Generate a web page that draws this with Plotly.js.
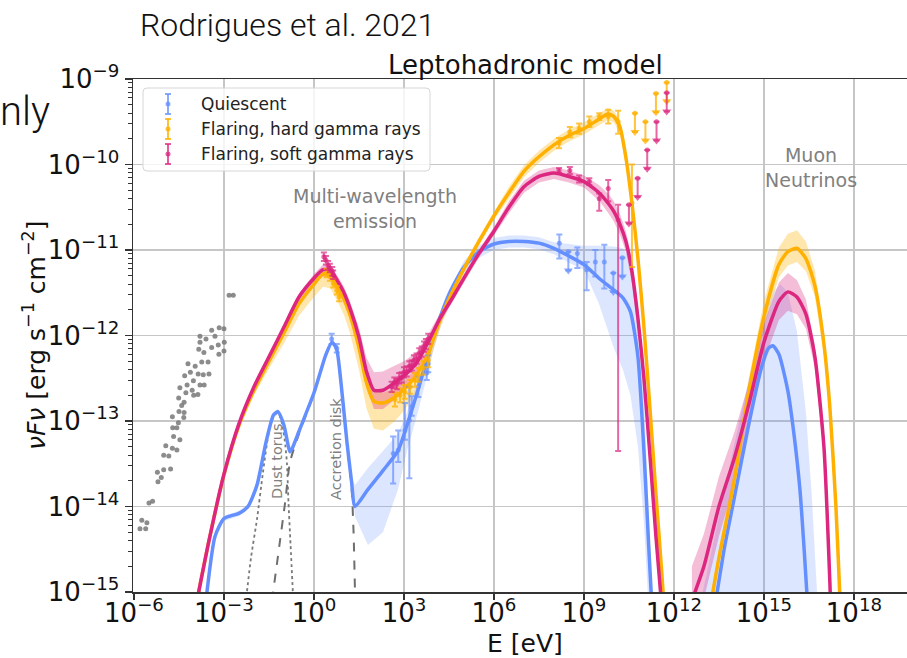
<!DOCTYPE html>
<html><head><meta charset="utf-8">
<script src="https://cdn.plot.ly/plotly-3.0.1.min.js"></script>
<style>body{margin:0;background:#fff}#chart{width:907px;height:658px}</style>
</head><body><div id="chart"></div>
<script>
// ===== values (log10 E [eV], log10 nuFnu [erg s^-1 cm^-2]) =====
// --- flaring models, photon SED ---
const sedLogE   = [-3.9,-3.5,-3.0,-2.5,-2.0,-1.5,-1.0,-0.5,0.0,0.3,0.55,0.8,1.0,1.2,1.5,1.75,2.0,2.3,2.7,3.0,3.4,3.8,4.2,4.6,5.0,5.5,6.0,6.5,7.0,7.5,8.0,8.5,9.0,9.5,9.8,10.0,10.2,10.4,10.6,10.8,11.0,11.2,11.4,11.6,11.75];
const softLine  = [-15.1,-14.4,-13.62,-13.03,-12.6,-12.25,-11.9,-11.55,-11.33,-11.23,-11.24,-11.37,-11.5,-11.68,-12.02,-12.42,-12.64,-12.64,-12.55,-12.47,-12.33,-12.08,-11.8,-11.57,-11.33,-11.04,-10.78,-10.5,-10.26,-10.14,-10.1,-10.14,-10.2,-10.33,-10.45,-10.55,-10.7,-10.9,-11.25,-11.8,-12.5,-13.4,-14.35,-15.2,-16.0];
const softUp    = [0.03,0.03,0.03,0.03,0.03,0.03,0.03,0.04,0.05,0.06,0.06,0.06,0.07,0.08,0.11,0.16,0.21,0.22,0.2,0.17,0.13,0.09,0.06,0.05,0.05,0.05,0.05,0.07,0.07,0.07,0.07,0.07,0.07,0.09,0.11,0.12,0.12,0.12,0.14,0.14,0.14,0.14,0.14,0.14,0.14];
const softDown  = [0.03,0.03,0.03,0.03,0.03,0.04,0.05,0.06,0.07,0.08,0.08,0.09,0.1,0.12,0.15,0.19,0.22,0.22,0.2,0.17,0.13,0.09,0.06,0.05,0.05,0.05,0.05,0.07,0.07,0.07,0.07,0.07,0.07,0.09,0.11,0.12,0.12,0.12,0.14,0.14,0.14,0.14,0.14,0.14,0.14];
const hardLine  = [-15.1,-14.4,-13.63,-13.05,-12.64,-12.3,-11.97,-11.63,-11.4,-11.28,-11.3,-11.45,-11.58,-11.76,-12.14,-12.55,-12.77,-12.79,-12.72,-12.63,-12.47,-12.22,-11.82,-11.5,-11.22,-10.9,-10.6,-10.33,-10.08,-9.91,-9.77,-9.66,-9.58,-9.47,-9.41,-9.44,-9.56,-9.92,-10.45,-11.1,-11.9,-12.85,-13.85,-14.8,-15.6];
const hardUp    = [0.02,0.02,0.02,0.02,0.02,0.02,0.03,0.03,0.04,0.04,0.05,0.05,0.06,0.08,0.1,0.12,0.13,0.12,0.1,0.09,0.08,0.06,0.05,0.05,0.05,0.05,0.05,0.07,0.07,0.07,0.07,0.07,0.07,0.07,0.07,0.07,0.08,0.1,0.1,0.1,0.1,0.1,0.1,0.1,0.1];
const hardDown  = [0.04,0.04,0.04,0.04,0.06,0.09,0.12,0.14,0.15,0.15,0.15,0.16,0.18,0.21,0.26,0.3,0.32,0.32,0.28,0.25,0.2,0.15,0.1,0.07,0.05,0.05,0.05,0.07,0.07,0.07,0.07,0.07,0.07,0.07,0.07,0.07,0.08,0.1,0.1,0.1,0.1,0.1,0.1,0.1,0.1];
// --- quiescent model, photon SED ---
const quiLogE   = [-3.6,-3.3,-3.0,-2.5,-2.2,-1.9,-1.6,-1.35,-1.2,-1.0,-0.8,-0.7,-0.5,0.0,0.4,0.6,0.75,0.9,1.1,1.25,1.37,1.8,2.3,2.8,3.1,3.5,4.0,4.5,5.0,5.5,6.0,6.5,7.0,7.5,8.0,8.5,9.0,9.5,10.0,10.3,10.55,10.8,11.0,11.15,11.3];
const quiLine   = [-15.1,-14.35,-14.14,-14.08,-14.0,-13.75,-13.25,-12.93,-12.89,-13.05,-13.36,-13.3,-13.12,-12.67,-12.22,-12.08,-12.15,-12.55,-13.25,-13.7,-14.0,-13.8,-13.58,-13.35,-13.05,-12.6,-12.0,-11.52,-11.2,-11.02,-10.93,-10.9,-10.9,-10.92,-10.98,-11.07,-11.17,-11.33,-11.47,-11.56,-11.72,-12.25,-13.35,-14.4,-15.4];
const quiUp     = [0.03,0.03,0.03,0.03,0.03,0.03,0.03,0.03,0.03,0.03,0.03,0.03,0.03,0.03,0.03,0.03,0.03,0.03,0.03,0.03,0.25,0.25,0.23,0.2,0.15,0.1,0.05,0.05,0.07,0.07,0.07,0.07,0.07,0.07,0.07,0.14,0.22,0.38,0.51,0.58,0.62,0.5,0.65,0.4,0.1];
const quiDown   = [0.03,0.03,0.03,0.03,0.03,0.03,0.03,0.03,0.03,0.03,0.03,0.03,0.03,0.03,0.03,0.03,0.03,0.03,0.03,0.03,0.12,0.65,0.72,0.45,0.3,0.25,0.15,0.06,0.07,0.07,0.07,0.07,0.07,0.07,0.07,0.08,0.06,0.3,0.68,0.84,0.98,1.05,0.85,0.7,0.7];
// --- thermal components of the quiescent model ---
const torusLogE = [-2.3,-2.1,-1.9,-1.7,-1.5,-1.35,-1.2,-1.05,-0.95,-0.9,-0.85,-0.78,-0.69];
const torusLine = [-15.2,-14.6,-14.15,-13.6,-13.12,-12.95,-12.9,-13.05,-13.3,-13.5,-13.95,-14.45,-15.1];
const diskLogE  = [-1.4,-1.15,-0.95,-0.8,-0.5,0.0,0.4,0.6,0.75,0.9,1.1,1.25,1.32,1.38];
const diskLine  = [-15.1,-14.45,-13.92,-13.48,-13.15,-12.68,-12.23,-12.09,-12.16,-12.56,-13.27,-13.75,-14.3,-15.2];
// --- muon neutrinos ---
const softNuLogE = [12.6,13.0,13.5,14.0,14.5,15.0,15.5,15.8,16.1,16.4,16.7,17.0,17.2,17.3];
const softNuLine = [-15.1,-14.7,-14.0,-13.45,-12.8,-12.08,-11.6,-11.49,-11.55,-11.75,-12.25,-13.3,-14.9,-16.0];
const softNuBand = [0.4,0.38,0.35,0.3,0.25,0.22,0.22,0.22,0.2,0.17,0.13,0.1,0.1,0.1];
const hardNuLogE = [13.2,13.5,14.0,14.5,15.0,15.5,15.8,16.1,16.4,16.7,17.0,17.2,17.4,17.55,17.65];
const hardNuLine = [-15.2,-14.6,-13.72,-12.65,-11.78,-11.17,-11.02,-10.98,-11.1,-11.42,-12.1,-12.85,-14.0,-15.2,-16.0];
const hardNuUp   = [0.1,0.1,0.12,0.15,0.18,0.2,0.21,0.21,0.2,0.18,0.15,0.15,0.12,0.1,0.1];
const hardNuDown = [0.1,0.1,0.1,0.12,0.13,0.15,0.16,0.16,0.15,0.13,0.12,0.1,0.1,0.1,0.1];
const quiNuLogE  = [13.35,13.7,14.0,14.5,14.9,15.15,15.3,15.5,15.8,16.0,16.2,16.35,16.5];
const quiNuLine  = [-15.2,-14.45,-13.92,-13.03,-12.4,-12.15,-12.12,-12.22,-12.65,-13.15,-13.8,-14.55,-15.4];
const quiNuBandLogE = [12.9,13.5,14.0,14.5,15.0,15.3,15.55,15.8,16.1,16.4,16.6,16.8];
const quiNuBandHi   = [-15.1,-14.1,-13.3,-12.5,-11.8,-11.5,-11.4,-11.5,-11.95,-12.9,-13.9,-15.2];
const quiNuBandLo   = [-16,-16,-16,-16,-16,-16,-16,-16,-16,-16,-16,-16];
// --- archival data (grey dots) ---
const greyLogE = [-2.83,-2.69,-3.16,-3.0,-3.41,-3.8,-3.6,-3.3,-3.8,-2.99,-3.41,-3.19,-3.84,-3.67,-3.0,-3.17,-3.74,-3.53,-4.2,-3.96,-4.12,-4.31,-3.86,-3.69,-3.5,-4.02,-4.23,-3.8,-3.66,-4.47,-4.06,-4.27,-4.01,-3.87,-4.51,-4.33,-4.41,-4.5,-4.33,-4.72,-4.34,-4.52,-4.71,-4.57,-4.68,-4.47,-4.94,-4.72,-4.57,-5.01,-4.84,-4.78,-5.01,-5.22,-5.09,-5.2,-5.5,-5.38,-5.74,-5.57,-5.8,-5.61];
const greyLogF = [-11.53,-11.53,-11.91,-11.92,-11.94,-12.01,-12.04,-12.01,-12.08,-12.08,-12.14,-12.11,-12.16,-12.2,-12.18,-12.22,-12.31,-12.31,-12.33,-12.36,-12.43,-12.47,-12.45,-12.46,-12.45,-12.53,-12.58,-12.58,-12.58,-12.61,-12.64,-12.67,-12.7,-12.69,-12.73,-12.78,-12.82,-12.89,-12.9,-12.95,-12.96,-13.02,-13.08,-13.08,-13.18,-13.22,-13.29,-13.32,-13.34,-13.4,-13.41,-13.56,-13.57,-13.6,-13.66,-13.71,-13.96,-13.94,-14.16,-14.19,-14.26,-14.26];
// --- measured points ---
const quiPtLogE = [0.59,0.76,2.64,2.81,3.03,3.18,3.26,3.48,3.76,3.81,8.18,8.78,9.09,9.38,9.68];
const quiPtLogF = [-12.04,-12.15,-13.38,-13.34,-13.11,-12.99,-12.83,-12.6,-12.44,-12.33,-10.92,-11.04,-11.23,-11.14,-11.14];
const quiPtHi   = [-11.98,-12.1,-13.18,-13.11,-12.79,-12.6,-12.71,-12.48,-12.34,-12.23,-10.82,-10.97,-11.14,-11.0,-10.94];
const quiPtLo   = [-12.1,-12.2,-13.73,-13.48,-13.22,-13.67,-12.94,-12.72,-12.52,-12.43,-11.1,-11.21,-11.47,-11.31,-11.45];
const quiUlLogE = [8.48,9.98,10.28];
const quiUlLogF = [-11.02,-11.27,-11.09];
const hardPtLogE = [0.42,0.53,0.64,0.76,0.84,2.7,2.87,3.03,3.2,3.37,3.48,3.64,3.81,8.17,8.53,8.84,9.18,9.51,9.81,10.14,10.6];
const hardPtLogF = [-11.27,-11.31,-11.39,-11.47,-11.55,-12.75,-12.7,-12.66,-12.6,-12.52,-12.46,-12.38,-12.29,-9.75,-9.62,-9.58,-9.5,-9.44,-9.44,-9.5,-10.45];
const hardPtHi   = [-11.22,-11.26,-11.34,-11.42,-11.5,-12.67,-12.62,-12.58,-12.52,-12.44,-12.38,-12.3,-12.21,-9.69,-9.56,-9.52,-9.44,-9.4,-9.36,-9.37,-10.0];
const hardPtLo   = [-11.32,-11.36,-11.44,-11.52,-11.6,-12.83,-12.78,-12.74,-12.68,-12.6,-12.54,-12.46,-12.37,-9.81,-9.68,-9.64,-9.56,-9.48,-9.52,-9.64,-11.2];
const hardUlLogE = [10.7,11.05,11.4,11.76];
const hardUlLogF = [-9.4,-9.5,-9.17,-9.04];
const softPtLogE = [0.33,0.4,0.47,0.53,0.61,0.64,2.59,2.68,2.76,2.84,2.92,3.0,3.09,3.18,3.26,3.33,3.42,3.51,3.59,3.67,3.73,3.81,8.17,8.53,8.84,9.18,9.51,9.81,10.14];
const softPtLogF = [-11.08,-11.12,-11.18,-11.21,-11.25,-11.29,-12.6,-12.55,-12.57,-12.5,-12.49,-12.43,-12.42,-12.36,-12.35,-12.29,-12.27,-12.21,-12.19,-12.13,-12.1,-12.04,-10.07,-10.07,-10.17,-10.2,-10.4,-10.28,-10.65];
const softPtHi   = [-11.03,-11.07,-11.13,-11.16,-11.2,-11.24,-12.54,-12.49,-12.51,-12.44,-12.43,-12.37,-12.36,-12.3,-12.29,-12.23,-12.21,-12.15,-12.13,-12.07,-12.04,-11.98,-10.04,-10.03,-10.13,-10.16,-10.34,-10.18,-10.47];
const softPtLo   = [-11.13,-11.17,-11.23,-11.26,-11.3,-11.34,-12.66,-12.61,-12.63,-12.56,-12.55,-12.49,-12.48,-12.42,-12.41,-12.35,-12.33,-12.27,-12.25,-12.19,-12.16,-12.1,-10.1,-10.11,-10.21,-10.24,-10.54,-10.43,-13.35];
const softUlLogE = [10.5,10.79,11.11,11.42,11.76];
const softUlLogF = [-10.47,-10.16,-9.83,-9.5,-9.16];
// --- axis ticks & labels ---
const xTickExp = [-6,-3,0,3,6,9,12,15,18];
const yTickExp = [-15,-14,-13,-12,-11,-10,-9];
const seriesNames = ['Quiescent','Flaring, hard gamma rays','Flaring, soft gamma rays'];

// ===== styling =====
const BLUE='#648FFF', GOLD='#FFB000', MAG='#DC267F';
const FONT='DejaVu Sans, sans-serif';
const ML=133, MT=79, PW=774, PH=513;
const X = px => (px-ML)/PW, Y = py => 1-(py-MT)/PH;
const pw = a => a.map(v => Math.pow(10, v));
const addArr = (a,b,s) => a.map((v,i)=>v+s*b[i]);
const UL_ARROW = 0.22;

function band(logE, hi, lo, fill){
  return {x: pw(logE.concat(logE.slice().reverse())), y: pw(hi.concat(lo.slice().reverse())),
    mode:'lines', fill:'toself', fillcolor:fill, line:{width:0}, hoverinfo:'skip', showlegend:false};
}
function line(logE, v, color, w, dash){
  return {x: pw(logE), y: pw(v), mode:'lines', line:{color, width:w, dash:dash||'solid', shape:'spline', smoothing:0.6}, showlegend:false, hoverinfo:'skip'};
}
function pts(logE, logF, hi, lo, color){
  const y = pw(logF);
  return {x: pw(logE), y, mode:'markers', marker:{size:5, color}, showlegend:false,
    error_y:{type:'data', symmetric:false, array: hi.map((h,i)=>Math.pow(10,h)-y[i]),
      arrayminus: lo.map((l,i)=>y[i]-Math.pow(10,l)), color, thickness:2, width:3}};
}
function uls(logE, logF, color){
  const y = pw(logF), tip = pw(logF.map(v=>v-UL_ARROW));
  return [
    {x: pw(logE), y, mode:'markers', marker:{size:5, color}, showlegend:false,
     error_y:{type:'data', symmetric:false, array: y.map(()=>0), arrayminus: y.map((v,i)=>v-tip[i]), color, thickness:2, width:3}},
    {x: pw(logE), y: tip, mode:'markers', marker:{symbol:'triangle-down', size:8, color}, showlegend:false}
  ];
}

const traces = [
  band(quiLogE, addArr(quiLine,quiUp,1), addArr(quiLine,quiDown,-1), 'rgba(100,143,255,0.22)'),
  band(quiNuBandLogE, quiNuBandHi, quiNuBandLo, 'rgba(100,143,255,0.22)'),
  band(sedLogE, addArr(hardLine,hardUp,1), addArr(hardLine,hardDown,-1), 'rgba(255,176,0,0.32)'),
  band(hardNuLogE, addArr(hardNuLine,hardNuUp,1), addArr(hardNuLine,hardNuDown,-1), 'rgba(255,176,0,0.32)'),
  band(sedLogE, addArr(softLine,softUp,1), addArr(softLine,softDown,-1), 'rgba(220,38,127,0.3)'),
  band(softNuLogE, addArr(softNuLine,softNuBand,1), addArr(softNuLine,softNuBand,-1), 'rgba(220,38,127,0.3)'),
  line(torusLogE, torusLine, '#7a7a7a', 1.8, 'dot'),
  line(diskLogE, diskLine, '#6e6e6e', 2, 'dash'),
  line(quiLogE, quiLine, BLUE, 3.5),
  line(quiNuLogE, quiNuLine, BLUE, 3.5),
  line(sedLogE, hardLine, GOLD, 3.5),
  line(hardNuLogE, hardNuLine, GOLD, 3.5),
  line(sedLogE, softLine, MAG, 3.5),
  line(softNuLogE, softNuLine, MAG, 3.5),
  {x: pw(greyLogE), y: pw(greyLogF), mode:'markers', marker:{size:5, color:'rgba(120,120,120,0.85)'}, showlegend:false},
  pts(quiPtLogE, quiPtLogF, quiPtHi, quiPtLo, 'rgba(100,143,255,0.7)'),
  ...uls(quiUlLogE, quiUlLogF, 'rgba(100,143,255,0.7)'),
  pts(hardPtLogE, hardPtLogF, hardPtHi, hardPtLo, 'rgba(255,176,0,0.75)'),
  ...uls(hardUlLogE, hardUlLogF, 'rgba(255,176,0,0.75)'),
  pts(softPtLogE, softPtLogF, softPtHi, softPtLo, 'rgba(220,38,127,0.7)'),
  ...uls(softUlLogE, softUlLogF, 'rgba(220,38,127,0.7)')
];

const sup = e => '10<sup>' + (e<0 ? '\u2212'+(-e) : e) + '</sup>';
const minorVals = [];
for (let d=-15; d<-9; d++) for (let k=2; k<10; k++) minorVals.push(k*Math.pow(10,d));

// custom legend
const legColors = ['rgba(100,143,255,0.75)','rgba(255,176,0,0.8)','rgba(220,38,127,0.75)'];
const legRows = [104,129,154];
const P = (px,py) => X(px)+','+Y(py);
const bl=143, br=430, bt=88, bb=171, rr=4;
const shapes = [{type:'path', xref:'paper', yref:'paper',
  path:`M ${P(bl+rr,bt)} L ${P(br-rr,bt)} Q ${P(br,bt)} ${P(br,bt+rr)} L ${P(br,bb-rr)} Q ${P(br,bb)} ${P(br-rr,bb)} L ${P(bl+rr,bb)} Q ${P(bl,bb)} ${P(bl,bb-rr)} L ${P(bl,bt+rr)} Q ${P(bl,bt)} ${P(bl+rr,bt)} Z`,
  fillcolor:'rgba(255,255,255,0.8)', line:{color:'#d6d6d6', width:1}, layer:'above'}];
const annotations = [];
legRows.forEach((ry,i)=>{
  const c = legColors[i], ix = 168;
  shapes.push({type:'line', xref:'paper', yref:'paper', x0:X(ix), x1:X(ix), y0:Y(ry-10), y1:Y(ry+10), line:{color:c, width:2}, layer:'above'});
  shapes.push({type:'line', xref:'paper', yref:'paper', x0:X(ix-3), x1:X(ix+3), y0:Y(ry-10), y1:Y(ry-10), line:{color:c, width:2}, layer:'above'});
  shapes.push({type:'line', xref:'paper', yref:'paper', x0:X(ix-3), x1:X(ix+3), y0:Y(ry+10), y1:Y(ry+10), line:{color:c, width:2}, layer:'above'});
  shapes.push({type:'circle', xref:'paper', yref:'paper', x0:X(ix-2.5), x1:X(ix+2.5), y0:Y(ry-2.5), y1:Y(ry+2.5), fillcolor:c, line:{width:0}, layer:'above'});
  annotations.push({xref:'paper', yref:'paper', x:X(199), y:Y(ry), xanchor:'left', yanchor:'middle', showarrow:false,
    text:seriesNames[i], font:{family:FONT, size:17, color:'#222'}});
});
const txt = (t, px, py, size, color, extra) => Object.assign({xref:'paper', yref:'paper', x:X(px), y:Y(py),
  xanchor:'center', yanchor:'middle', showarrow:false, text:t, font:{family:FONT, size, color}}, extra||{});
annotations.push(
  txt('Leptohadronic model', 525, 65, 26, '#111'),
  txt('Rodrigues et al. 2021', 138, 25, 32, '#111', {xanchor:'left', font:{family:'Roboto, sans-serif', size:32, color:'#111', weight:300}}),
  txt('nly', -2, 111, 40, '#111', {xanchor:'left', font:{family:'Roboto, sans-serif', size:40, color:'#111', weight:300}}),
  txt('Multi-wavelength<br>emission', 375, 208, 19, '#808080'),
  txt('Muon<br>Neutrinos', 811, 167, 19, '#808080'),
  txt('Dust torus', 277, 462, 14.5, '#808080', {textangle:-90}),
  txt('Accretion disk', 336, 449, 14.5, '#808080', {textangle:-90}),
  txt('<i>\u03bdF\u03bd</i> [erg s<sup>\u22121</sup> cm<sup>\u22122</sup>]', 34, 335, 25, '#111', {textangle:-90}),
  txt('E [eV]', 525, 643, 25, '#111')
);

const layout = {
  width:907, height:658, margin:{l:ML, r:0, t:MT, b:658-MT-PH, pad:0},
  paper_bgcolor:'#fff', plot_bgcolor:'#fff', showlegend:false,
  xaxis:{type:'log', range:[-6.033, 19.77], tickmode:'array', tickvals:pw(xTickExp), ticktext:xTickExp.map(sup),
    showgrid:true, gridcolor:'#c6c6c6', gridwidth:1.5, zeroline:false, showline:true, linecolor:'#333', linewidth:1.5, mirror:true,
    ticks:'outside', ticklen:6, tickwidth:1.5, tickcolor:'#333', ticklabelstandoff:-9, tickfont:{family:FONT, size:26, color:'#111'}},
  yaxis:{type:'log', range:[-15,-9], tickmode:'array', tickvals:pw(yTickExp), ticktext:yTickExp.map(sup),
    showgrid:true, gridcolor:'#c6c6c6', gridwidth:1.5, zeroline:false, showline:true, linecolor:'#333', linewidth:1.5,
    ticks:'outside', ticklen:7, tickwidth:1.5, tickcolor:'#333', tickfont:{family:FONT, size:26, color:'#111'},
    minor:{tickmode:'array', tickvals:minorVals, ticks:'outside', ticklen:3.5, tickwidth:1, tickcolor:'#333', showgrid:false}},
  shapes, annotations
};
Plotly.newPlot('chart', traces, layout, {staticPlot:true, displayModeBar:false});
</script></body></html>
